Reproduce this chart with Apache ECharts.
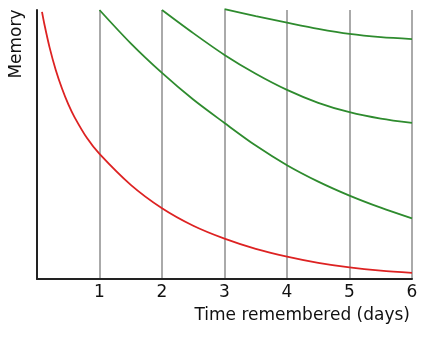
<!DOCTYPE html>
<html>
<head>
<meta charset="utf-8">
<script src="https://cdn.jsdelivr.net/npm/echarts@6/dist/echarts.min.js"></script>
<style>
html,body{margin:0;padding:0;background:#fff;}
#chart{width:442px;height:339px;}
</style>
</head>
<body>
<div id="chart"></div>
<script>
// Tick labels along the time axis (days)
const xTickLabels = ['', '1', '2', '3', '4', '5', '6'];
// Forgetting curve without review: [day, memory %]
const redCurve = [[0.08,99.3],[0.12,94.5],[0.2,86.2],[0.3,77.7],[0.4,70.8],[0.5,65],[0.6,60.2],[0.8,52.4],[1,46.5],[1.5,35],[2,26.3],[2.5,19.8],[3,15],[3.5,11.2],[4,8.3],[4.5,6],[5,4.3],[5.5,3.1],[6,2.3]];
// Curves after review on day 1, 2 and 3
const green1 = [[1,100],[1.5,87.6],[2,76.6],[2.5,66.7],[3,58],[3.5,49.6],[4,42.3],[4.5,36.2],[5,31],[5.5,26.5],[6,22.5]];
const green2 = [[2,100],[2.5,91.4],[3,83.3],[3.5,76.3],[4,70.3],[4.5,65.5],[5,62],[5.5,59.6],[6,58]];
const green3 = [[3,100.3],[3.5,97.7],[4,95.3],[4.5,93],[5,91.1],[5.5,89.9],[6,89.2]];

const FONT = 'DejaVu Sans';
const chart = echarts.init(document.getElementById('chart'), null, {renderer:'canvas'});
const lineSeries = (data, color) => ({
  type:'line', data, smooth:0.3, showSymbol:false, symbol:'none',
  lineStyle:{color, width:1.8}, animation:false, clip:false
});
chart.setOption({
  animation:false,
  backgroundColor:'#fff',
  grid:{left:37, right:30, top:10, bottom:60},
  xAxis:{
    type:'value', min:0, max:6, interval:1,
    name:'Time remembered (days)', nameLocation:'end', nameGap:-2,
    nameTextStyle:{fontFamily:FONT, fontSize:17, color:'#111', align:'right', verticalAlign:'top', padding:[28,0,0,0]},
    axisLine:{show:true, lineStyle:{color:'#222', width:2}},
    axisTick:{show:false},
    axisLabel:{fontFamily:FONT, fontSize:17, color:'#111', margin:5, formatter:v=>xTickLabels[Math.round(v)]},
    splitLine:{show:true, lineStyle:{color:'#aaaaaa', width:2}}
  },
  yAxis:{
    type:'value', min:0, max:100,
    axisLine:{show:true, lineStyle:{color:'#222', width:2}},
    axisTick:{show:false}, axisLabel:{show:false}, splitLine:{show:false}
  },
  graphic:[{
    type:'text', x:17, y:44, rotation:Math.PI/2,
    style:{text:'Memory', font:'17px "DejaVu Sans"', fill:'#111', textAlign:'center', textVerticalAlign:'middle'}
  }],
  series:[
    lineSeries(redCurve, '#dd2222'),
    lineSeries(green1, '#2e8b2e'),
    lineSeries(green2, '#2e8b2e'),
    lineSeries(green3, '#2e8b2e')
  ]
});
</script>
</body>
</html>
